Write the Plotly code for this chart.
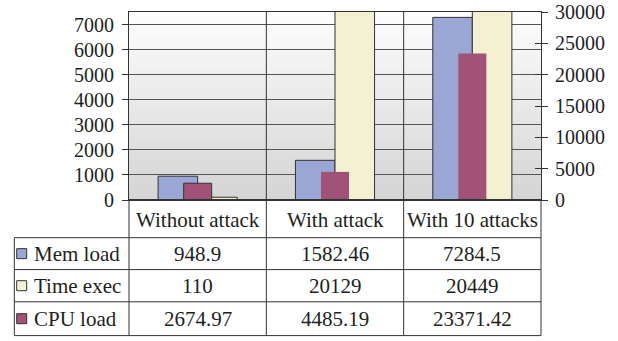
import plotly.graph_objects as go

# ---- data -------------------------------------------------------------
categories = ["Without attack", "With attack", "With 10 attacks"]
series_names = ["Mem load", "Time exec", "CPU load"]
mem_load = [948.9, 1582.46, 7284.5]
time_exec = [110, 20129, 20449]
cpu_load = [2674.97, 4485.19, 23371.42]
left_ticks = [0, 1000, 2000, 3000, 4000, 5000, 6000, 7000]
right_ticks = [0, 5000, 10000, 15000, 20000, 25000, 30000]

# ---- style ------------------------------------------------------------
W, H = 618, 341
L, R, T, B = 129, 77, 12, 141
PW, PH = W - L - R, H - T - B
FONT = "Liberation Serif"
FS = 20
FS_TABLE = 21
INK = "#1e1e1e"
EDGE = "#333333"
COLORS = {"Mem load": "#9aa6d4", "Time exec": "#f3f1d2", "CPU load": "#a05277"}


def px_x(px):
    return (px - L) / PW


def px_y(py):
    return (H - B - py) / PH


def fmt(v):
    return ("%.2f" % v).rstrip("0").rstrip(".")


fig = go.Figure()

# primary-axis series side by side, secondary series centred over them
fig.add_trace(go.Bar(x=categories, y=mem_load, name="Mem load", yaxis="y",
                     offset=-0.288, width=0.288,
                     marker=dict(color=COLORS["Mem load"], line=dict(color=EDGE, width=1))))
fig.add_trace(go.Bar(x=categories, y=time_exec, name="Time exec", yaxis="y",
                     offset=0.0, width=0.288,
                     marker=dict(color=COLORS["Time exec"], line=dict(color=EDGE, width=1))))
fig.add_trace(go.Bar(x=categories, y=cpu_load, name="CPU load", yaxis="y2",
                     offset=-0.102, width=0.204,
                     marker=dict(color=COLORS["CPU load"], line=dict(color=EDGE, width=[1, 0, 0]))))
# carrier for the inner half of the right-hand cross ticks
fig.add_trace(go.Scatter(x=categories, y=cpu_load, yaxis="y3", mode="markers",
                         marker=dict(opacity=0), hoverinfo="skip", showlegend=False))

shapes = []
# vertical gradient behind the plot area
n_bands = 94
top_c, bot_c = 253, 212
for i in range(n_bands):
    f = i / (n_bands - 1)
    c = round(bot_c + (top_c - bot_c) * f)
    shapes.append(dict(type="rect", xref="x domain", yref="y domain", layer="below",
                       x0=0, x1=1, y0=i / n_bands, y1=(i + 1) / n_bands + 0.002,
                       fillcolor=f"rgb({c},{c},{c})", line=dict(width=0)))

# data table below the plot
row_y = [200, 237.7, 269.6, 301.8, 335.6]
col_x = [L, L + PW / 3, L + 2 * PW / 3, L + PW]
label_left = 14.3


def hline(y, x0, x1, w=1):
    shapes.append(dict(type="line", xref="paper", yref="paper",
                       x0=px_x(x0), x1=px_x(x1), y0=px_y(y), y1=px_y(y),
                       line=dict(color=EDGE, width=w)))


def vline(x, y0, y1, w=1):
    shapes.append(dict(type="line", xref="paper", yref="paper",
                       x0=px_x(x), x1=px_x(x), y0=px_y(y0), y1=px_y(y1),
                       line=dict(color=EDGE, width=w)))


hline(row_y[0], col_x[0], col_x[-1], 2)
for y in row_y[1:]:
    hline(y, label_left, col_x[-1])
vline(label_left, row_y[1], row_y[-1])
vline(col_x[0], row_y[0], row_y[-1])
vline(col_x[-1], row_y[0], row_y[-1])
for x in col_x[1:-1]:
    vline(x, T, row_y[-1])

annotations = []
for j, cat in enumerate(categories):
    cx = (col_x[j] + col_x[j + 1]) / 2
    annotations.append(dict(xref="paper", yref="paper", x=px_x(cx),
                            y=px_y((row_y[0] + row_y[1]) / 2 + 1),
                            text=cat, showarrow=False, xanchor="center", yanchor="middle",
                            font=dict(family=FONT, size=FS_TABLE, color=INK)))

rows = {"Mem load": mem_load, "Time exec": time_exec, "CPU load": cpu_load}
for i, name in enumerate(series_names):
    cy = (row_y[i + 1] + row_y[i + 2]) / 2
    # legend key
    shapes.append(dict(type="rect", xref="paper", yref="paper",
                       x0=px_x(16.7), x1=px_x(26.7), y0=px_y(cy - 5), y1=px_y(cy + 5),
                       fillcolor=COLORS[name], line=dict(color=EDGE, width=1)))
    annotations.append(dict(xref="paper", yref="paper", x=px_x(32), y=px_y(cy),
                            text=name, showarrow=False, xanchor="left", yanchor="middle",
                            font=dict(family=FONT, size=FS_TABLE, color=INK)))
    for j, v in enumerate(rows[name]):
        cx = (col_x[j] + col_x[j + 1]) / 2
        annotations.append(dict(xref="paper", yref="paper", x=px_x(cx), y=px_y(cy),
                                text=fmt(v), showarrow=False, xanchor="center",
                                yanchor="middle",
                                font=dict(family=FONT, size=FS_TABLE, color=INK)))

fig.update_layout(
    width=W, height=H,
    margin=dict(l=L, r=R, t=T, b=B, pad=0, autoexpand=False),
    paper_bgcolor="white", plot_bgcolor="white",
    showlegend=False, barmode="overlay",
    font=dict(family=FONT, size=FS, color=INK),
    xaxis=dict(type="category", range=[-0.5, 2.5], showticklabels=False, ticks="",
               showgrid=False, zeroline=False, showline=True, mirror=True,
               linecolor=EDGE, linewidth=1, automargin=False),
    yaxis=dict(range=[0, 7500], tickvals=left_ticks,
               ticktext=[str(t) for t in left_ticks], ticks="outside", ticklen=6,
               tickcolor=EDGE, showgrid=True, gridcolor="#555555", gridwidth=1,
               zeroline=False, showline=True, linecolor=EDGE, linewidth=1,
               ticklabelstandoff=4, automargin=False),
    yaxis2=dict(range=[0, 30000], overlaying="y", side="right", tickvals=right_ticks,
                ticktext=[str(t) for t in right_ticks],
                ticks="outside", ticklen=6, tickcolor=EDGE, showgrid=False,
                zeroline=False, showline=True, linecolor=EDGE, linewidth=1,
                ticklabelstandoff=3, automargin=False),
    yaxis3=dict(range=[0, 30000], overlaying="y", side="right", tickvals=right_ticks,
                ticks="inside", ticklen=6, tickcolor=EDGE, showticklabels=False,
                showgrid=False, zeroline=False, showline=False, automargin=False),
    shapes=shapes,
    annotations=annotations,
)

fig.write_html("out.html")
